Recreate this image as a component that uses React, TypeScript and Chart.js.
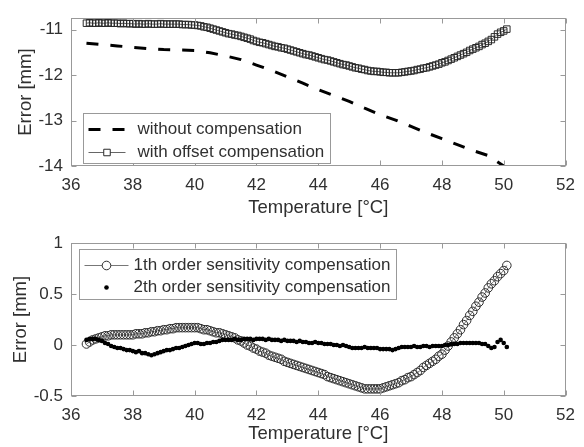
import React, { useEffect, useRef } from 'react';
import { Chart, registerables } from 'chart.js';
Chart.register(...registerables);

// ---------- data ----------
const temperature = [
  36.5, 36.6, 36.7, 36.8, 36.9, 37.0, 37.1, 37.2, 37.3, 37.4, 37.5, 37.6, 37.7, 37.8, 37.9,
  38.0, 38.1, 38.2, 38.3, 38.4, 38.5, 38.6, 38.7, 38.8, 38.9, 39.0, 39.1, 39.2, 39.3, 39.4,
  39.5, 39.6, 39.7, 39.8, 39.9, 40.0, 40.1, 40.2, 40.3, 40.4, 40.5, 40.6, 40.7, 40.8, 40.9,
  41.0, 41.1, 41.2, 41.3, 41.4, 41.5, 41.6, 41.7, 41.8, 41.9, 42.0, 42.1, 42.2, 42.3, 42.4,
  42.5, 42.6, 42.7, 42.8, 42.9, 43.0, 43.1, 43.2, 43.3, 43.4, 43.5, 43.6, 43.7, 43.8, 43.9,
  44.0, 44.1, 44.2, 44.3, 44.4, 44.5, 44.6, 44.7, 44.8, 44.9, 45.0, 45.1, 45.2, 45.3, 45.4,
  45.5, 45.6, 45.7, 45.8, 45.9, 46.0, 46.1, 46.2, 46.3, 46.4, 46.5, 46.6, 46.7, 46.8, 46.9,
  47.0, 47.1, 47.2, 47.3, 47.4, 47.5, 47.6, 47.7, 47.8, 47.9, 48.0, 48.1, 48.2, 48.3, 48.4,
  48.5, 48.6, 48.7, 48.8, 48.9, 49.0, 49.1, 49.2, 49.3, 49.4, 49.5, 49.6, 49.7, 49.8, 49.9,
  50.0, 50.1,
];

const withoutCompTemp = [
  36.5, 37.0, 37.5, 38.0, 38.5, 39.0, 39.5, 40.0, 40.5, 41.0, 41.5, 42.0, 42.5, 43.0,
  43.5, 44.0, 44.5, 45.0, 45.5, 46.0, 46.5, 47.0, 47.5, 48.0, 48.5, 49.0, 49.5, 50.0,
];
const withoutComp = [
  -11.30, -11.33, -11.36, -11.39, -11.42, -11.44, -11.45, -11.46, -11.51, -11.58, -11.66, -11.78, -11.90, -12.04,
  -12.18, -12.32, -12.45, -12.58, -12.73, -12.87, -12.99, -13.13, -13.27, -13.40, -13.53, -13.66, -13.77, -14.0,
];

const offsetComp = [
  -10.86, -10.85, -10.86, -10.86, -10.85, -10.86, -10.86, -10.85, -10.86, -10.86, -10.86, -10.87, -10.86, -10.87, -10.87,
  -10.87, -10.88, -10.87, -10.88, -10.88, -10.87, -10.88, -10.88, -10.88, -10.87, -10.88, -10.88, -10.88, -10.88, -10.88,
  -10.88, -10.89, -10.89, -10.89, -10.90, -10.90, -10.91, -10.92, -10.94, -10.95, -10.97, -10.99, -11.01, -11.03, -11.05,
  -11.07, -11.09, -11.10, -11.12, -11.13, -11.15, -11.17, -11.19, -11.21, -11.24, -11.26, -11.28, -11.29, -11.31, -11.33,
  -11.35, -11.37, -11.38, -11.40, -11.41, -11.43, -11.45, -11.47, -11.49, -11.51, -11.53, -11.55, -11.56, -11.58, -11.60,
  -11.62, -11.64, -11.66, -11.67, -11.69, -11.71, -11.73, -11.75, -11.77, -11.78, -11.80, -11.82, -11.84, -11.85, -11.87,
  -11.88, -11.90, -11.91, -11.92, -11.92, -11.93, -11.94, -11.94, -11.95, -11.95, -11.95, -11.95, -11.94, -11.93, -11.92,
  -11.91, -11.90, -11.88, -11.87, -11.85, -11.84, -11.82, -11.80, -11.78, -11.76, -11.73, -11.71, -11.68, -11.65, -11.62,
  -11.59, -11.56, -11.53, -11.50, -11.46, -11.43, -11.40, -11.37, -11.33, -11.30, -11.26, -11.22, -11.16, -11.10, -11.06,
  -11.03, -10.99,
];

const firstOrder = [
  0.01, 0.03, 0.05, 0.06, 0.07, 0.08, 0.09, 0.09, 0.10, 0.10, 0.10, 0.10, 0.10, 0.10, 0.10,
  0.10, 0.11, 0.11, 0.11, 0.12, 0.12, 0.13, 0.13, 0.14, 0.14, 0.15, 0.15, 0.16, 0.16, 0.17,
  0.17, 0.17, 0.17, 0.17, 0.17, 0.17, 0.17, 0.16, 0.15, 0.15, 0.14, 0.13, 0.12, 0.12, 0.11,
  0.10, 0.09, 0.08, 0.07, 0.05, 0.04, 0.02, 0.00, -0.01, -0.03, -0.04, -0.06, -0.07, -0.08, -0.10,
  -0.11, -0.12, -0.13, -0.14, -0.16, -0.17, -0.18, -0.19, -0.20, -0.21, -0.22, -0.23, -0.24, -0.25, -0.26,
  -0.27, -0.28, -0.29, -0.31, -0.32, -0.33, -0.34, -0.35, -0.36, -0.37, -0.38, -0.39, -0.40, -0.41, -0.42,
  -0.43, -0.43, -0.43, -0.43, -0.43, -0.43, -0.42, -0.41, -0.40, -0.39, -0.38, -0.37, -0.35, -0.34, -0.32,
  -0.31, -0.29, -0.27, -0.25, -0.22, -0.20, -0.18, -0.16, -0.14, -0.11, -0.09, -0.05, -0.01, 0.03, 0.07,
  0.11, 0.15, 0.20, 0.24, 0.29, 0.33, 0.38, 0.42, 0.47, 0.51, 0.56, 0.60, 0.63, 0.67, 0.70,
  0.73, 0.78,
];

const secondOrder = [
  0.05, 0.06, 0.06, 0.06, 0.05, 0.04, 0.02, 0.01, -0.01, -0.02, -0.03, -0.03, -0.04, -0.05, -0.05,
  -0.06, -0.07, -0.06, -0.08, -0.08, -0.09, -0.10, -0.09, -0.08, -0.07, -0.06, -0.05, -0.05, -0.04, -0.03,
  -0.03, -0.02, -0.01, 0.00, 0.01, 0.02, 0.02, 0.01, 0.01, 0.02, 0.02, 0.03, 0.03, 0.04, 0.05,
  0.05, 0.05, 0.05, 0.06, 0.05, 0.05, 0.06, 0.06, 0.06, 0.05, 0.06, 0.06, 0.06, 0.05, 0.06,
  0.05, 0.05, 0.05, 0.04, 0.05, 0.04, 0.04, 0.04, 0.03, 0.04, 0.03, 0.03, 0.02, 0.02, 0.03,
  0.02, 0.02, 0.01, 0.01, 0.01, 0.00, 0.00, -0.01, 0.00, -0.01, -0.02, -0.03, -0.03, -0.03, -0.03,
  -0.02, -0.03, -0.03, -0.03, -0.03, -0.04, -0.04, -0.04, -0.04, -0.05, -0.04, -0.03, -0.02, -0.02, -0.02,
  -0.02, -0.01, -0.02, -0.02, -0.01, -0.01, -0.02, -0.01, -0.01, -0.01, -0.01, 0.00, 0.00, 0.01, 0.01,
  0.01, 0.02, 0.02, 0.02, 0.02, 0.02, 0.02, 0.02, 0.01, 0.01, -0.01, -0.03, -0.02, 0.03, 0.05,
  0.02, -0.02,
];

const xTicks = [36, 38, 40, 42, 44, 46, 48, 50, 52];
const topYTicks = [-14, -13, -12, -11];
const bottomYTicks = [-0.5, 0, 0.5, 1];

// ---------- styles ----------
const FONT = "'Liberation Sans', Arial, Helvetica, sans-serif";
const TEXT = '#303030';
const FRAME = '#999999';

const pairs = (xs: number[], ys: number[]) => xs.map((x, i) => ({ x, y: ys[i] }));

const framePlugin = {
  id: 'frame',
  afterDatasetsDraw(chart: any) {
    const { ctx, chartArea: a, scales } = chart;
    ctx.save();
    ctx.strokeStyle = FRAME;
    ctx.lineWidth = 1;
    const L = Math.round(a.left) + 0.5, R = Math.round(a.right) - 0.5;
    const T = Math.round(a.top) + 0.5, B = Math.round(a.bottom) - 0.5;
    ctx.strokeRect(L, T, R - L, B - T);
    const tl = 5;
    ctx.beginPath();
    scales.x.ticks.forEach((t: any) => {
      const px = Math.round(scales.x.getPixelForValue(t.value)) + 0.5;
      ctx.moveTo(px, B); ctx.lineTo(px, B - tl);
      ctx.moveTo(px, T); ctx.lineTo(px, T + tl);
    });
    scales.y.ticks.forEach((t: any) => {
      const py = Math.round(scales.y.getPixelForValue(t.value)) + 0.5;
      ctx.moveTo(L, py); ctx.lineTo(L + tl, py);
      ctx.moveTo(R, py); ctx.lineTo(R - tl, py);
    });
    ctx.stroke();
    ctx.restore();
  },
};

const legendPlugin = {
  id: 'insideLegend',
  afterDraw(chart: any) {
    const o = chart.options.plugins.insideLegend;
    if (!o) return;
    const { ctx, chartArea: a } = chart;
    const x0 = Math.round(a.left + o.left) + 0.5;
    const y0 = Math.round(a.top + o.top) + 0.5;
    ctx.save();
    ctx.fillStyle = '#ffffff';
    ctx.fillRect(x0, y0, o.width, o.height);
    ctx.strokeStyle = FRAME;
    ctx.lineWidth = 1;
    ctx.strokeRect(x0, y0, o.width, o.height);
    ctx.font = `${o.fontSize}px ${FONT}`;
    ctx.textBaseline = 'middle';
    ctx.textAlign = 'left';
    chart.data.datasets.forEach((ds: any, i: number) => {
      const y = y0 + o.firstRow + i * o.rowGap;
      const s0 = x0 + o.sampleStart, s1 = x0 + o.sampleEnd, cx = (s0 + s1) / 2;
      if (ds.showLine !== false) {
        ctx.save();
        ctx.strokeStyle = ds.borderColor;
        ctx.lineWidth = ds.borderWidth;
        ctx.setLineDash(ds.borderDash || []);
        ctx.beginPath();
        ctx.moveTo(s0, y); ctx.lineTo(s1, y);
        ctx.stroke();
        ctx.restore();
      }
      if (ds.pointRadius > 0) {
        ctx.save();
        ctx.strokeStyle = ds.pointBorderColor;
        ctx.fillStyle = ds.pointBackgroundColor;
        ctx.lineWidth = ds.pointBorderWidth;
        ctx.beginPath();
        if (ds.pointStyle === 'rect') {
          const h = Math.SQRT1_2 * ds.pointRadius;
          ctx.rect(cx - h, y - h, 2 * h, 2 * h);
          ctx.fillStyle = '#ffffff';
          ctx.fill();
        } else {
          ctx.arc(cx, y, ds.pointRadius, 0, Math.PI * 2);
          if (ds.showLine !== false) { ctx.fillStyle = '#ffffff'; }
          ctx.fill();
        }
        if (ds.pointBorderWidth > 0) ctx.stroke();
        ctx.restore();
      }
      ctx.fillStyle = TEXT;
      ctx.fillText(ds.label, x0 + o.textStart, y);
    });
    ctx.restore();
  },
};

function scalesFor(yMin: number, yMax: number, yTicks: number[], xHeight: number, yTitlePad: number, xTitlePad: number) {
  return {
    x: {
      type: 'linear',
      min: 36,
      max: 52,
      afterBuildTicks: (s: any) => { s.ticks = xTicks.map((v) => ({ value: v })); },
      afterFit: (s: any) => { s.height = xHeight; },
      grid: { display: false, drawTicks: false },
      border: { display: false },
      ticks: { font: { family: FONT, size: 17 }, color: TEXT, padding: 9, maxRotation: 0, autoSkip: false, callback: (v: number) => String(v) },
      title: { display: true, text: 'Temperature [°C]', font: { family: FONT, size: 18.5 }, color: TEXT, padding: { top: 0, bottom: xTitlePad } },
    },
    y: {
      type: 'linear',
      min: yMin,
      max: yMax,
      afterBuildTicks: (s: any) => { s.ticks = yTicks.map((v) => ({ value: v })); },
      afterFit: (s: any) => { s.width = 71; },
      grid: { display: false, drawTicks: false },
      border: { display: false },
      ticks: { font: { family: FONT, size: 17 }, color: TEXT, padding: 8, callback: (v: number) => String(v) },
      title: { display: true, text: 'Error [mm]', font: { family: FONT, size: 18.5 }, color: TEXT, padding: { top: yTitlePad, bottom: 0 } },
    },
  };
}

function topConfig(): any {
  return {
    type: 'scatter',
    data: {
      datasets: [
        {
          label: 'without compensation',
          data: pairs(withoutCompTemp, withoutComp),
          showLine: true,
          borderColor: '#000000',
          borderWidth: 3,
          borderDash: [12, 12],
          pointRadius: 0,
          pointHoverRadius: 0,
          order: 1,
        },
        {
          label: 'with offset compensation',
          data: pairs(temperature, offsetComp),
          showLine: true,
          borderColor: '#666666',
          borderWidth: 1,
          pointStyle: 'rect',
          pointRadius: 4.6,
          pointBorderColor: '#2a2a2a',
          pointBackgroundColor: 'rgba(0,0,0,0)',
          pointBorderWidth: 1,
          order: 0,
        },
      ],
    },
    options: {
      responsive: false,
      animation: false,
      events: [],
      layout: { padding: { top: 13, right: 11, left: 0, bottom: 0 } },
      elements: { line: { tension: 0 } },
      scales: scalesFor(-14, -10.75, topYTicks, 56, 15, 3),
      plugins: {
        legend: { display: false },
        tooltip: { enabled: false },
        insideLegend: { left: 12, top: 95, width: 247, height: 50, firstRow: 16, rowGap: 23, sampleStart: 5, sampleEnd: 42, textStart: 54, fontSize: 17 },
      },
    },
    plugins: [framePlugin, legendPlugin],
  };
}

function bottomConfig(): any {
  return {
    type: 'scatter',
    data: {
      datasets: [
        {
          label: '1th order sensitivity compensation',
          data: pairs(temperature, firstOrder),
          showLine: true,
          borderColor: '#777777',
          borderWidth: 1,
          pointStyle: 'circle',
          pointRadius: 4.3,
          pointBorderColor: '#2e2e2e',
          pointBackgroundColor: 'rgba(0,0,0,0)',
          pointBorderWidth: 1,
          order: 1,
        },
        {
          label: '2th order sensitivity compensation',
          data: pairs(temperature, secondOrder),
          showLine: false,
          borderColor: '#000000',
          borderWidth: 0,
          pointStyle: 'circle',
          pointRadius: 2.3,
          pointBorderColor: '#000000',
          pointBackgroundColor: '#000000',
          pointBorderWidth: 0,
          order: 0,
        },
      ],
    },
    options: {
      responsive: false,
      animation: false,
      events: [],
      layout: { padding: { top: 21, right: 11, left: 0, bottom: 0 } },
      elements: { line: { tension: 0 } },
      scales: scalesFor(-0.5, 1, bottomYTicks, 51, 10, 1.5),
      plugins: {
        legend: { display: false },
        tooltip: { enabled: false },
        insideLegend: { left: 8, top: 6, width: 317, height: 50, firstRow: 16, rowGap: 22, sampleStart: 5, sampleEnd: 49, textStart: 54, fontSize: 17 },
      },
    },
    plugins: [framePlugin, legendPlugin],
  };
}

export default function App() {
  const topRef = useRef<HTMLCanvasElement | null>(null);
  const bottomRef = useRef<HTMLCanvasElement | null>(null);
  useEffect(() => {
    const c1 = new Chart(topRef.current as HTMLCanvasElement, topConfig());
    const c2 = new Chart(bottomRef.current as HTMLCanvasElement, bottomConfig());
    return () => { c1.destroy(); c2.destroy(); };
  }, []);
  return (
    <div style={{ position: 'absolute', left: 0, top: 0, width: 584, height: 447, background: '#ffffff' }}>
      <canvas ref={topRef} width={584} height={222} style={{ position: 'absolute', left: 0, top: 0, display: 'block' }} />
      <canvas ref={bottomRef} width={584} height={225} style={{ position: 'absolute', left: 0, top: 222, display: 'block' }} />
    </div>
  );
}
